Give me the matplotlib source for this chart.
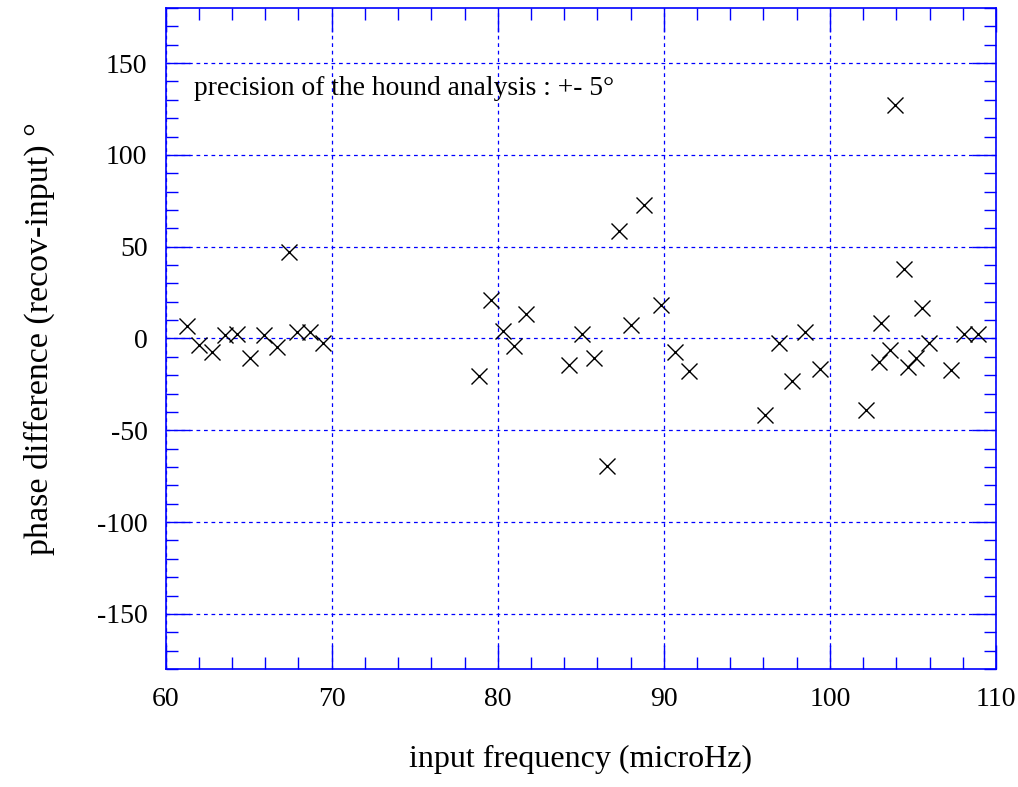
import numpy as np
import matplotlib
matplotlib.use("Agg")
import matplotlib.pyplot as plt
from matplotlib.ticker import MultipleLocator

plt.rcParams['font.family'] = ['Liberation Serif', 'DejaVu Serif']

# input frequency (microHz) and phase difference (degrees)
freq = [61.3, 62.0, 62.8, 63.6, 64.3, 65.1, 65.9, 66.7, 67.45, 67.9, 68.7, 69.5,
        78.9, 79.6, 80.3, 81.0, 81.7, 84.3, 85.1, 85.8, 86.6, 87.3, 88.05, 88.8,
        89.85, 90.7, 91.5,
        96.1, 96.95, 97.7, 98.5, 99.4,
        102.2, 102.95, 103.05, 103.6, 103.9, 104.45, 104.7, 105.2, 105.55, 105.95,
        107.3, 108.1, 108.9]
phase = [6.7, -3.7, -7.3, 1.8, 2.7, -10.4, 1.8, -4.6, 46.9, 3.6, 3.6, -2.4,
         -20.4, 20.9, 4.1, -4.2, 13.6, -14.2, 2.2, -10.6, -69.6, 58.7, 7.3, 72.7,
         18.2, -7.3, -17.8,
         -41.8, -2.7, -23.3, 3.3, -16.4,
         -39.1, -12.8, 8.5, -6.0, 127.2, 37.8, -15.5, -10.9, 16.4, -2.2,
         -16.9, 2.7, 2.7]

xticks = [60, 70, 80, 90, 100, 110]
yticks = [-150, -100, -50, 0, 50, 100, 150]
note = "precision of the hound analysis : +- 5°"

fig = plt.figure(figsize=(10.18, 7.87), dpi=100)
ax = fig.add_axes([0.1626, 0.15, 0.8158, 0.8398])

ax.plot(freq, phase, linestyle="none", marker="x", markersize=11,
        markeredgewidth=1.0, color="black", zorder=3)

ax.set_xlim(60, 110)
ax.set_ylim(-180, 180)
ax.set_xticks(xticks)
ax.set_yticks(yticks)
ax.set_yticklabels([str(v) for v in yticks])
ax.xaxis.set_minor_locator(MultipleLocator(2))
ax.yaxis.set_minor_locator(MultipleLocator(10))

for s in ax.spines.values():
    s.set_color("blue")
    s.set_linewidth(1.2)

ax.tick_params(which="both", direction="in", top=True, right=True,
               color="blue", labelcolor="black", labelsize=20)
ax.tick_params(which="major", length=17, width=1.0, pad=13)
ax.tick_params(which="minor", length=8.5, width=1.0)

ax.grid(True, which="major", color="blue", linestyle=(0, (3, 3)), linewidth=0.9)

ax.text(61.7, 136, note, fontsize=19.8, va="center", ha="left")

ax.set_xlabel("input frequency (microHz)", fontsize=23, labelpad=24)
ax.set_ylabel("phase difference (recov-input) °", fontsize=24.5, labelpad=30)

fig.savefig("out.png", dpi=100)
